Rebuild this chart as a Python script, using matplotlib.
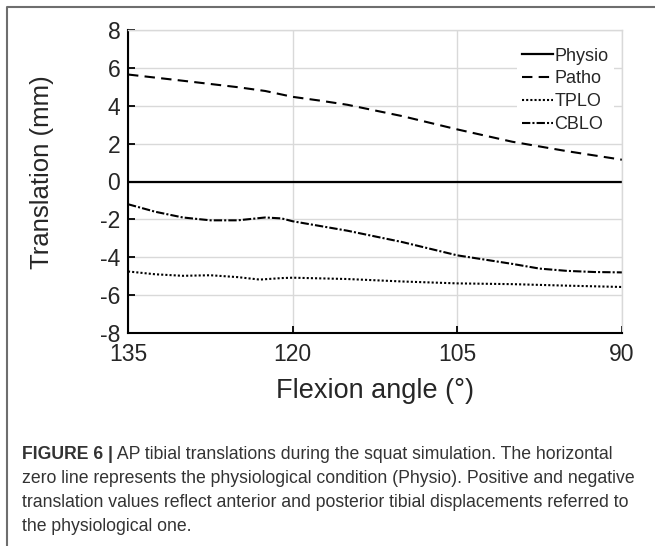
import numpy as np
import matplotlib
matplotlib.use("Agg")
import matplotlib.pyplot as plt
from matplotlib.lines import Line2D

plt.rcParams["font.family"] = ["Liberation Sans", "DejaVu Sans"]
plt.rcParams["axes.unicode_minus"] = False

# ============================================================
# Data
# ============================================================
physio_angle = [135, 90]
physio_val = [0.0, 0.0]

patho_angle = [135, 130, 125, 122.5, 120, 117.5, 115, 110, 105, 100, 95, 90]
patho_val = [5.65, 5.32, 4.98, 4.78, 4.47, 4.27, 4.05, 3.45, 2.75, 2.1, 1.6, 1.15]

tplo_angle = [135, 132.5, 130, 127.5, 125, 123, 121, 120, 115, 110, 105, 100, 95, 90]
tplo_val = [-4.75, -4.9, -4.98, -4.95, -5.05, -5.18, -5.1, -5.08, -5.15, -5.28,
            -5.38, -5.42, -5.5, -5.57]

cblo_angle = [135, 132.5, 130, 127.5, 125, 122.5, 121, 120, 117.5, 115, 110,
              105, 100, 97.5, 95, 92.5, 90]
cblo_val = [-1.2, -1.6, -1.9, -2.05, -2.05, -1.9, -1.95, -2.1, -2.35, -2.6, -3.2,
            -3.9, -4.35, -4.6, -4.72, -4.78, -4.8]

x_ticks = [135, 120, 105, 90]
y_ticks = [-8, -6, -4, -2, 0, 2, 4, 6, 8]

caption_bold = "FIGURE 6 |"
caption_lines = [
    " AP tibial translations during the squat simulation. The horizontal",
    "zero line represents the physiological condition (Physio). Positive and negative",
    "translation values reflect anterior and posterior tibial displacements referred to",
    "the physiological one.",
]

# ============================================================
# Figure
# ============================================================
W, H = 655, 546
fig = plt.figure(figsize=(W / 100, H / 100), dpi=100)
ax = fig.add_axes([128 / W, 1 - 333 / H, 494 / W, 303 / H])

txt = "#262626"
ax.plot(physio_angle, physio_val, color="black", lw=1.6, ls="-", label="Physio")
ax.plot(patho_angle, patho_val, color="black", lw=1.5, dashes=(5, 3), label="Patho")
ax.plot(tplo_angle, tplo_val, color="black", lw=1.5, dashes=(1, 1), label="TPLO")
ax.plot(cblo_angle, cblo_val, color="black", lw=1.5, dashes=(4, 1, 1, 1), label="CBLO")

ax.set_xlim(135, 90)
ax.set_ylim(-8, 8)
ax.set_xticks(x_ticks)
ax.set_yticks(y_ticks)
ax.grid(True, color="#d9d9d9", lw=1.0)
ax.set_axisbelow(True)

for s in ["left", "bottom"]:
    ax.spines[s].set_color("black")
    ax.spines[s].set_linewidth(1.5)
for s in ["top", "right"]:
    ax.spines[s].set_color("#d9d9d9")
    ax.spines[s].set_linewidth(1.0)

ax.tick_params(direction="in", length=5, width=1.3, labelsize=16.5,
               labelcolor=txt, color="black")
ax.tick_params(axis="x", pad=7)
ax.tick_params(axis="y", pad=5.5)
ax.set_xlabel("Flexion angle (°)", fontsize=19.5, color=txt)
ax.set_ylabel("Translation (mm)", fontsize=18.5, color=txt)
ax.xaxis.set_label_coords(0.5, -0.148)
ax.yaxis.set_label_coords(-0.15, 0.53)

leg = ax.legend(loc="upper right", bbox_to_anchor=(0.984, 0.96), borderaxespad=0,
                fontsize=13, frameon=True, facecolor="white", edgecolor="none",
                framealpha=1, fancybox=False, handlelength=1.7, handletextpad=0.1,
                labelspacing=0.32, borderpad=0.3)
for t in leg.get_texts():
    t.set_color(txt)

# outer border (left and top only)
bx, by = 7 / W, 1 - 7 / H
fig.add_artist(Line2D([bx, bx, 1], [0, by, by], transform=fig.transFigure,
                      color="#6e6e6e", lw=1.5))

# caption
cap_x = 22 / W
cap_y = [459, 483, 507, 531]
fs_cap = 12.7
b = fig.text(cap_x, 1 - cap_y[0] / H, caption_bold, fontsize=fs_cap,
             fontweight="bold", color="#333333", va="baseline")
fig.canvas.draw()
bb = b.get_window_extent(renderer=fig.canvas.get_renderer())
fig.text(bb.x1 / W, 1 - cap_y[0] / H, caption_lines[0], fontsize=fs_cap,
         color="#333333", va="baseline")
for line, y in zip(caption_lines[1:], cap_y[1:]):
    fig.text(cap_x, 1 - y / H, line, fontsize=fs_cap, color="#333333", va="baseline")

fig.savefig("out.png", dpi=100)
